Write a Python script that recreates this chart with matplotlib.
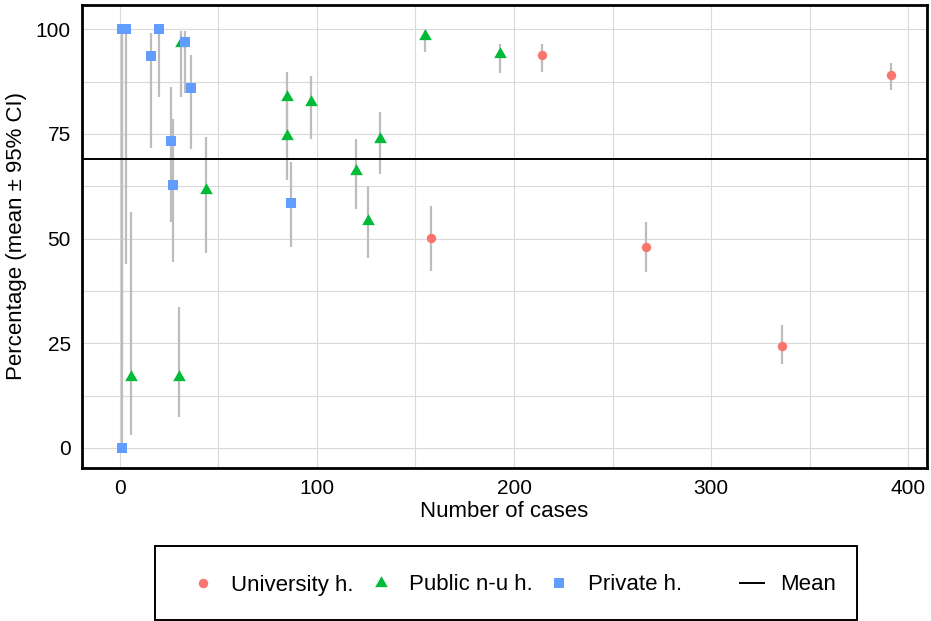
import matplotlib
matplotlib.use("Agg")
import matplotlib.pyplot as plt
from matplotlib.lines import Line2D
from matplotlib.patches import Rectangle

plt.rcParams['font.family'] = ['Liberation Sans', 'DejaVu Sans']

# University hospitals
uni_n = [158, 214, 267, 336, 391]
uni_pct = [50.1, 93.9, 47.9, 24.4, 89.0]
uni_lo = [42.3, 89.9, 42.0, 20.1, 85.5]
uni_hi = [57.8, 96.5, 54.0, 29.4, 91.9]

# Public non-university hospitals
pub_n = [6, 30, 31, 44, 85, 85, 97, 120, 126, 132, 155, 193]
pub_pct = [17.0, 17.0, 96.8, 61.6, 83.8, 74.4, 82.7, 66.2, 54.2, 73.7, 98.4, 94.1]
pub_lo = [3.1, 7.5, 83.9, 46.6, 75.5, 64.0, 73.7, 57.0, 45.3, 65.4, 94.5, 89.5]
pub_hi = [56.4, 33.7, 99.6, 74.3, 89.9, 82.0, 88.8, 73.8, 62.4, 80.3, 99.8, 96.5]

# Private hospitals
priv_n = [1, 1, 3, 16, 20, 26, 27, 33, 36, 87]
priv_pct = [100.0, 0.0, 100.0, 93.7, 100.0, 73.2, 62.9, 97.0, 86.0, 58.6]
priv_lo = [20.6, 0.0, 44.0, 71.7, 83.9, 54.0, 44.3, 84.7, 71.4, 48.1]
priv_hi = [100.0, 97.5, 100.0, 99.0, 100.0, 86.3, 78.6, 99.6, 93.9, 68.4]

overall_mean = 69.0

x_ticks = [0, 100, 200, 300, 400]
y_ticks = [0, 25, 50, 75, 100]

groups = [
    ("University h.", uni_n, uni_pct, uni_lo, uni_hi, "o", "#F8766D", 6.8),
    ("Public n-u h.", pub_n, pub_pct, pub_lo, pub_hi, (3, 0, 0), "#00BA38", 10.5),
    ("Private h.", priv_n, priv_pct, priv_lo, priv_hi, "s", "#619CFF", 7.2),
]

fig = plt.figure(figsize=(9.31, 6.21), dpi=100)
ax = fig.add_axes([82 / 931, 153 / 621, 845 / 931, 463 / 621])

# confidence intervals first, then the points on top
for label, n, pct, lo, hi, mk, col, ms in groups:
    ax.vlines(n, lo, hi, colors="#bdbdbd", linewidth=1.6, zorder=2)
ax.axhline(overall_mean, color="black", linewidth=1.4, zorder=3)
handles = []
for label, n, pct, lo, hi, mk, col, ms in groups:
    ax.plot(n, pct, linestyle="none", marker=mk, color=col, markersize=ms,
            markeredgewidth=0, zorder=4)
    handles.append(Line2D([], [], linestyle="none", marker=mk, color=col,
                          markersize=ms, markeredgewidth=0, label=label))

ax.set_xlim(-19.1, 409.4)
ax.set_ylim(-4.8, 105.8)
ax.set_xticks(x_ticks)
ax.set_yticks(y_ticks)
ax.set_xticks([50, 150, 250, 350], minor=True)
ax.set_yticks([12.5, 37.5, 62.5, 87.5], minor=True)
ax.grid(True, which="both", color="#d9d9d9", linewidth=0.8)
ax.set_axisbelow(True)
ax.tick_params(which="both", length=0)
ax.tick_params(axis="both", labelsize=15, pad=8, colors="black")
for sp in ax.spines.values():
    sp.set_linewidth(2)
    sp.set_color("black")

ax.set_xlabel("Number of cases", fontsize=16, labelpad=2)
ax.set_ylabel("Percentage (mean \u00b1 95% CI)", fontsize=16, labelpad=6)

# legend box
fig.patches.append(Rectangle((155 / 931, 1 / 621), 702 / 931, 74 / 621,
                             transform=fig.transFigure, fill=False,
                             edgecolor="black", linewidth=1.4))
fig.legend(handles=handles, loc="center left",
           bbox_to_anchor=(189 / 931, 36 / 621), ncol=3, frameon=False,
           fontsize=16, handlelength=1.25, handletextpad=0.65,
           columnspacing=0.58, borderpad=0, borderaxespad=0)
mean_handle = Line2D([], [], color="black", linewidth=1.4, label="Mean")
fig.legend(handles=[mean_handle], loc="center left",
           bbox_to_anchor=(740 / 931, 36 / 621), frameon=False,
           fontsize=16, handlelength=1.1, handletextpad=0.7,
           borderpad=0, borderaxespad=0)

fig.savefig("out.png", dpi=100)
